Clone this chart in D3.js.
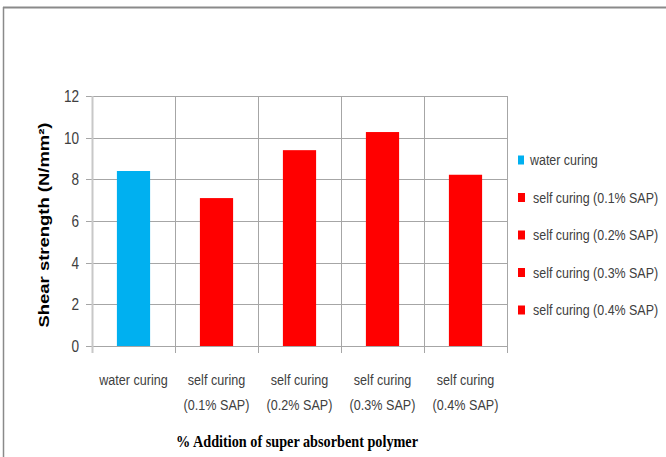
<!DOCTYPE html>
<html><head><meta charset="utf-8">
<script src="https://cdn.jsdelivr.net/npm/d3@7/dist/d3.min.js"></script>
<style>
html,body{margin:0;padding:0;background:#fff;}
svg{display:block;}
</style></head>
<body>
<script>
const categories = ["water curing","self curing (0.1% SAP)","self curing (0.2% SAP)","self curing (0.3% SAP)","self curing (0.4% SAP)"];
const categoryLines = [["water curing"],["self curing","(0.1% SAP)"],["self curing","(0.2% SAP)"],["self curing","(0.3% SAP)"],["self curing","(0.4% SAP)"]];
const values = [8.4, 7.1, 9.4, 10.27, 8.22];
const colors = ["#00B0F0","#FF0000","#FF0000","#FF0000","#FF0000"];
const yTicks = [0,2,4,6,8,10,12];
const yTitle = "Shear strength (N/mm²)";
const xTitle = "% Addition of super absorbent polymer";

const W = 666, H = 457;
const svg = d3.select("body").append("svg").attr("width",W).attr("height",H);
const sans = "'Liberation Sans',Arial,sans-serif";

// text placed at (px,py), horizontally condensed by k (reference uses a narrow font)
function ntext(parent, px, py, k, str, anchor, size){
  return parent.append("text")
    .attr("transform",`translate(${px},${py}) scale(${k},1)`)
    .attr("dy","0.35em").attr("text-anchor",anchor)
    .attr("font-family",sans).attr("font-size",size).attr("fill","#404040")
    .text(str);
}

// frame
svg.append("line").attr("x1",3).attr("x2",666).attr("y1",7.5).attr("y2",7.5).attr("stroke","#8a8a8a").attr("stroke-width",2);
svg.append("line").attr("x1",3.5).attr("x2",3.5).attr("y1",7).attr("y2",457).attr("stroke","#8a8a8a").attr("stroke-width",1.5);

const plot = {l:92, r:507, t:96, b:346};
const x = d3.scaleBand().domain(categories).range([plot.l, plot.r]).paddingInner(0.6).paddingOuter(0.3);
const y = d3.scaleLinear().domain([0,12]).range([plot.b, plot.t]);
const step = x.step();

// horizontal gridlines
svg.append("g").selectAll("line").data(yTicks).join("line")
  .attr("x1",plot.l-6).attr("x2",plot.r)
  .attr("y1",d=>Math.round(y(d))+0.5).attr("y2",d=>Math.round(y(d))+0.5)
  .attr("stroke","#a6a6a6").attr("stroke-width",1);

// vertical gridlines at category boundaries
const bounds = d3.range(categories.length+1).map(i=>plot.l + i*step);
svg.append("g").selectAll("line").data(bounds).join("line")
  .attr("x1",d=>Math.round(d)+0.5).attr("x2",d=>Math.round(d)+0.5)
  .attr("y1",plot.t).attr("y2",plot.b+7)
  .attr("stroke",(d,i)=>i===0?"#c8c8c8":"#a6a6a6").attr("stroke-width",(d,i)=>i===0?2:1);

// y tick labels
const yl = svg.append("g");
yTicks.forEach(t=>ntext(yl, 79, y(t), 0.8, t, "end", 17));

// bars
svg.append("g").selectAll("rect").data(values).join("rect")
  .attr("x",(d,i)=>x(categories[i])).attr("width",x.bandwidth())
  .attr("y",d=>y(d)).attr("height",d=>y(0)-y(d))
  .attr("fill",(d,i)=>colors[i]);

// category labels
const cl = svg.append("g");
categoryLines.forEach((lines,i)=>{
  const cx = x(categories[i]) + x.bandwidth()/2;
  lines.forEach((t,j)=>ntext(cl, cx, 380+j*25, 0.84, t, "middle", 15));
});

// y title
svg.append("text").attr("transform","translate(49,225) rotate(-90)")
  .attr("text-anchor","middle").attr("font-family",sans)
  .attr("font-weight","bold").attr("font-size",14).attr("fill","#000")
  .attr("textLength",205).attr("lengthAdjust","spacingAndGlyphs")
  .text(yTitle);

// x title
svg.append("text").attr("x",297).attr("y",441).attr("dy","0.35em")
  .attr("text-anchor","middle").attr("font-family","'Liberation Serif','Times New Roman',serif")
  .attr("font-weight","bold").attr("font-size",16).attr("fill","#000")
  .attr("textLength",242).attr("lengthAdjust","spacingAndGlyphs")
  .text(xTitle);

// legend
const lg = svg.append("g");
categories.forEach((c,i)=>{
  const cy = 160 + i*37.5;
  const small = i===0;
  lg.append("rect").attr("x",518).attr("y",cy-4.5).attr("width",small?6:7).attr("height",9).attr("fill",colors[i]);
  ntext(lg, small?530:533, cy, 0.83, c, "start", 15);
});
</script>
</body></html>
